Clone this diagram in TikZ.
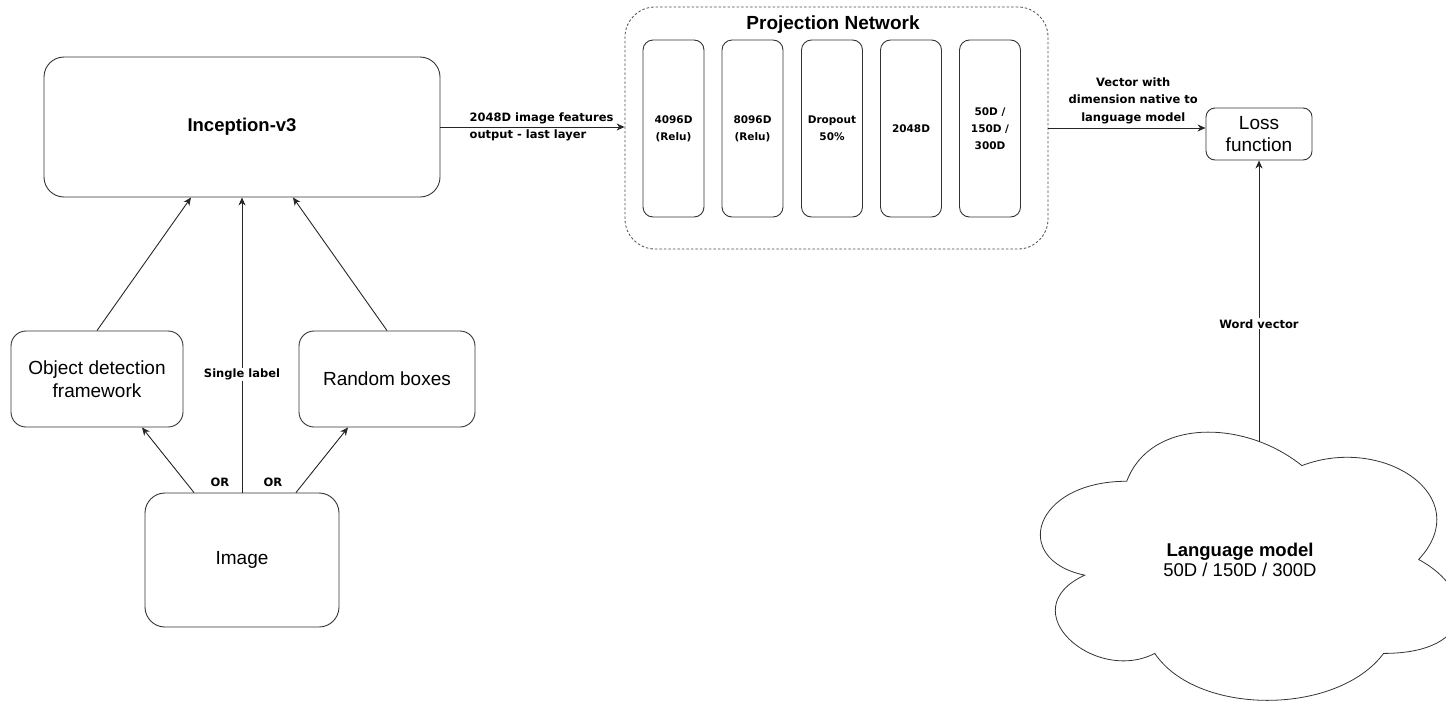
\documentclass[tikz,border=0pt]{standalone}
\usepackage{fontspec}
\setmainfont{Liberation Sans}
\newfontfamily\lblfont{DejaVu Sans}
\usetikzlibrary{arrows.meta}

\begin{document}
\begin{tikzpicture}[x=1pt,y=-1pt,line width=0.9pt,
  blk/.style={draw=black!80, rounded corners=#1, inner sep=0pt, align=center,
              font=\fontsize{19}{22.5}\selectfont},
  blk/.default=15pt,
  layer/.style={draw=black!80, rounded corners=10pt, inner sep=0pt, align=center,
                minimum width=61pt, minimum height=177pt,
                font=\lblfont\bfseries\fontsize{10.5}{17}\selectfont},
  arr/.style={draw=black!85, -{Stealth[length=8pt,width=7pt,inset=2.5pt]}},
  elbl/.style={font=\lblfont\bfseries\fontsize{11.5}{17.5}\selectfont, inner sep=1pt},
  bigbold/.style={font=\bfseries\fontsize{18.5}{21}\selectfont}]

\useasboundingbox (0,0) rectangle (1446,702);
\clip (0,0) rectangle (1446,702);

% feature extractor and its inputs
\node[blk=20pt, minimum width=396pt, minimum height=140pt, bigbold] (inc) at (242,127) {Inception-v3};
\node[blk, minimum width=172pt, minimum height=96pt] (od) at (97,379) {Object detection\\framework};
\node[blk, minimum width=176pt, minimum height=96pt] (rb) at (387,379) {Random boxes};
\node[blk=20pt, minimum width=194pt, minimum height=134pt] (img) at (242,560) {Image};
\node[elbl] (or1) at (220,482) {OR};
\node[elbl] (or2) at (273,482) {OR};

% projection network
\node[draw=black!70, dash pattern=on 2.5pt off 2pt, line width=0.8pt, rounded corners=30pt,
      minimum width=423pt, minimum height=242pt] (pn) at (836.5,128) {};
\node[font=\bfseries\fontsize{19}{21}\selectfont] (pntitle) at (833,25) {Projection Network};
\node[layer] (l1) at (673.5,128.5) {4096D\\(Relu)};
\node[layer] (l2) at (752.5,128.5) {8096D\\(Relu)};
\node[layer] (l3) at (832,128.5) {Dropout\\50\%};
\node[layer] (l4) at (911,128.5) {2048D};
\node[layer] (l5) at (990,128.5) {50D /\\150D /\\300D};

% loss
\node[blk=9pt, minimum width=106pt, minimum height=52pt] (loss) at (1259,134) {Loss\\function};

% language model cloud
\draw[black!80, line width=0.8pt]
  (1126.75,481.25) .. controls (1033.35,481.25) and (1010,559.5) .. (1084.72,575.15)
  .. controls (1010,609.58) and (1094.06,684.7) .. (1154.77,653.4)
  .. controls (1196.8,716) and (1336.9,716) .. (1383.6,653.4)
  .. controls (1477,653.4) and (1477,590.8) .. (1418.63,559.5)
  .. controls (1477,496.9) and (1383.6,434.3) .. (1301.88,465.6)
  .. controls (1243.5,418.65) and (1150.1,418.65) .. (1126.75,481.25) -- cycle;
\node[align=center, inner sep=0pt] (lm) at (1240,560)
  {{\bfseries\fontsize{18.5}{22}\selectfont Language model}\\[2pt]
   {\fontsize{18.5}{22}\selectfont 50D / 150D / 300D}};
\coordinate (lmtop) at (1259,442);

% connectors
\draw[arr] ([xshift=-48pt]img.north) -- ([xshift=45pt]od.south);
\draw[arr] ([xshift=54pt]img.north) -- ([xshift=-39pt]rb.south);
\draw[arr] (img.north) -- node[elbl, fill=white, pos=0.4] (single) {Single label} (inc.south);
\draw[arr] (od.north) -- ([xshift=-51pt]inc.south);
\draw[arr] (rb.north) -- ([xshift=51pt]inc.south);
\draw[arr] (inc.east) -- node[elbl, align=left, pos=0.549] (feat) {2048D image features\\output - last layer} (inc.east -| pn.west);
\draw[arr] (pn.east) -- node[elbl, align=center, above, pos=0.54, yshift=3pt] (vec) {Vector with\\dimension native to\\language model} (pn.east -| loss.west);
\draw[arr] (lmtop) -- node[elbl, fill=white, pos=0.42] (wv) {Word vector} (loss.south);
\end{tikzpicture}
\end{document}
